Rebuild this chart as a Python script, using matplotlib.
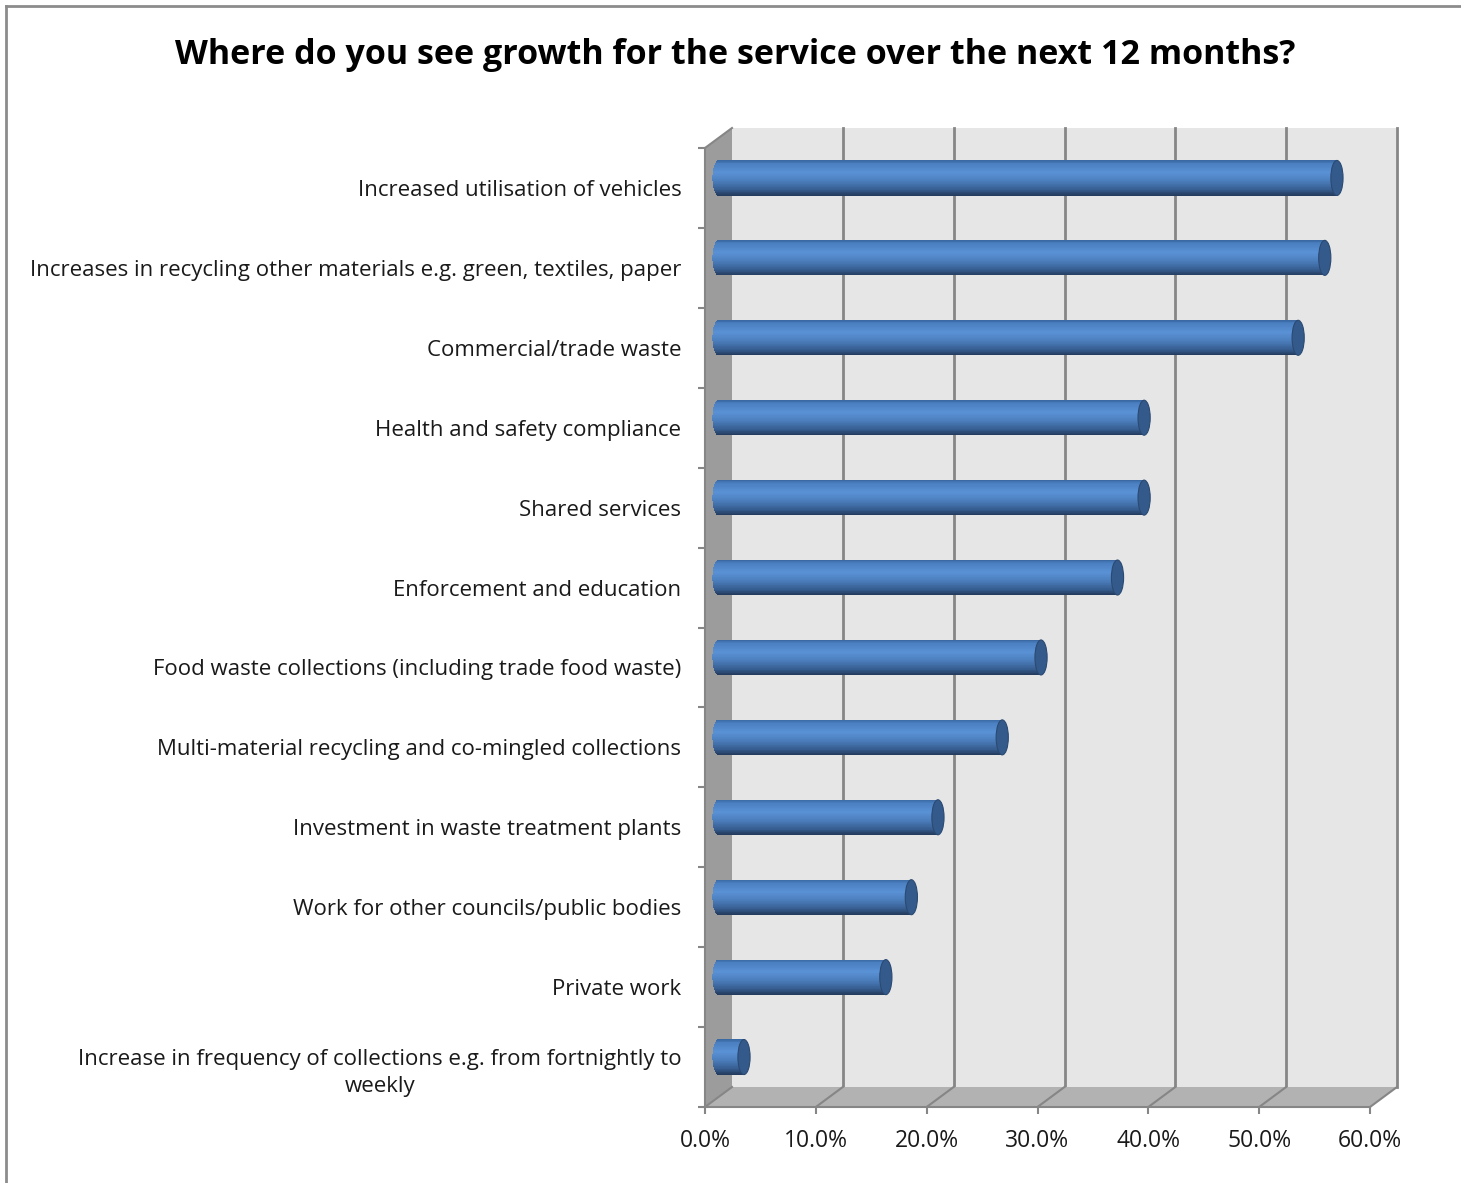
import numpy as np
import matplotlib
matplotlib.use("Agg")
import matplotlib.pyplot as plt
from matplotlib.patches import Polygon, Ellipse, Rectangle
from matplotlib.transforms import Affine2D
from matplotlib.colors import LinearSegmentedColormap

plt.rcParams['font.family'] = ['Open Sans', 'DejaVu Sans']

title = "Where do you see growth for the service over the next 12 months?"
categories = [
    "Increased utilisation of vehicles",
    "Increases in recycling other materials e.g. green, textiles, paper",
    "Commercial/trade waste",
    "Health and safety compliance",
    "Shared services",
    "Enforcement and education",
    "Food waste collections (including trade food waste)",
    "Multi-material recycling and co-mingled collections",
    "Investment in waste treatment plants",
    "Work for other councils/public bodies",
    "Private work",
    "Increase in frequency of collections e.g. from fortnightly to\nweekly",
]
values = [55.8, 54.7, 52.3, 38.4, 38.4, 36.0, 29.1, 25.6, 19.8, 17.4, 15.1, 2.3]
xticks = [0, 10, 20, 30, 40, 50, 60]
xticklabels = ["0.0%", "10.0%", "20.0%", "30.0%", "40.0%", "50.0%", "60.0%"]

W, H = 1461, 1183
fig = plt.figure(figsize=(W / 100, H / 100), dpi=100)
fig.patch.set_facecolor("white")

# front plane of the 3-D box, in pixels
x0, x1, ytop, ybot = 705, 1370, 148, 1107
ax = fig.add_axes([x0 / W, 1 - ybot / H, (x1 - x0) / W, (ybot - ytop) / H])
ax.set_xlim(0, 60)
ax.set_ylim(len(categories) - 0.5, -0.5)
ax.set_facecolor("none")

# depth shift of the back wall (display px) and the bars (half depth)
DX, DY = 27, 20
back = ax.transData + Affine2D().translate(DX, DY)
mid = ax.transData + Affine2D().translate(DX / 2, DY / 2)

wall_c, side_c, floor_c, line_c = "#e6e6e6", "#9c9c9c", "#b2b2b2", "#868686"
ylo, yhi = -0.5, len(categories) - 0.5

# back wall with vertical gridlines
ax.add_patch(Rectangle((0, ylo), 60, yhi - ylo, transform=back,
                       facecolor=wall_c, edgecolor="none", zorder=0, clip_on=False))
for xv in xticks[1:]:
    ax.plot([xv, xv], [ylo, yhi], color=line_c, lw=2, transform=back,
            zorder=1, clip_on=False)

# side wall and floor
def shifted(x, y):
    px, py = ax.transData.transform((x, y))
    return ax.transData.inverted().transform((px + DX, py + DY))

side = [(0, ylo), tuple(shifted(0, ylo)), tuple(shifted(0, yhi)), (0, yhi)]
ax.add_patch(Polygon(side, closed=True, facecolor=side_c, edgecolor="none",
                     zorder=2, clip_on=False))
floor = [(0, yhi), (60, yhi), tuple(shifted(60, yhi)), tuple(shifted(0, yhi))]
ax.add_patch(Polygon(floor, closed=True, facecolor=floor_c, edgecolor="none",
                     zorder=2, clip_on=False))
for xv in xticks:
    bx, by = shifted(xv, yhi)
    ax.plot([xv, bx], [yhi, by], color=line_c, lw=1.5, zorder=3, clip_on=False)
tx, ty = shifted(0, ylo)
ax.plot([0, tx], [ylo, ty], color=line_c, lw=1.5, zorder=3, clip_on=False)

# cylinders: horizontal strips shaded top to bottom, rounded at the base
cmap = LinearSegmentedColormap.from_list("cyl", [
    (0.0, "#3a69a3"), (0.08, "#4a7fc0"), (0.35, "#5a92d6"),
    (0.6, "#4b7dbb"), (0.85, "#365d8f"), (1.0, "#243c60")])
bar_h = 0.438
cap_w = 1.1
n = 48
ypos = np.arange(len(categories))
vals = np.array(values)
for k in range(n):
    u = (k + 0.5) / n * 2 - 1
    left = -cap_w / 2 * np.sqrt(1 - u * u)
    ax.barh(ypos + u * bar_h / 2, vals - left, left=left, height=bar_h / n * 1.3,
            color=cmap(k / (n - 1)), linewidth=0, transform=mid, zorder=4,
            clip_on=False)
for yi, v in zip(ypos, values):
    ax.add_patch(Ellipse((v, yi), cap_w, bar_h, transform=mid, facecolor="#345a8b",
                         edgecolor="#2b4a72", lw=0.8, zorder=5, clip_on=False))

# axes lines and ticks on the front plane
for s in ("top", "right"):
    ax.spines[s].set_visible(False)
for s in ("left", "bottom"):
    ax.spines[s].set_color(line_c)
    ax.spines[s].set_linewidth(1.5)
    ax.spines[s].set_zorder(6)

ax.set_yticks(np.arange(ylo, yhi + 0.01, 1))
ax.set_yticklabels([])
ax.set_yticks(ypos, minor=True)
ax.set_yticklabels(categories, minor=True, fontsize=16, color="#1a1a1a",
                   multialignment="center", linespacing=1.4)
ax.tick_params(axis="y", which="major", length=5, width=1.5, color=line_c)
ax.tick_params(axis="y", which="minor", length=0, pad=17)

ax.set_xticks(xticks)
ax.set_xticklabels(xticklabels, fontsize=16.5, color="#1a1a1a")
ax.tick_params(axis="x", length=5, width=1.5, color=line_c, pad=11)

fig.text(735 / W, 1 - 55 / H, title, ha="center", va="center",
         fontsize=24.5, fontweight="bold", color="black")

# chart border (top and left edges)
fig.add_artist(plt.Line2D([6 / W, 6 / W], [0, 1 - 6 / H], color="#8c8c8c",
                          lw=2, transform=fig.transFigure))
fig.add_artist(plt.Line2D([6 / W, 1], [1 - 6 / H, 1 - 6 / H], color="#8c8c8c",
                          lw=2, transform=fig.transFigure))

fig.savefig("out.png", dpi=100, facecolor=fig.get_facecolor())
